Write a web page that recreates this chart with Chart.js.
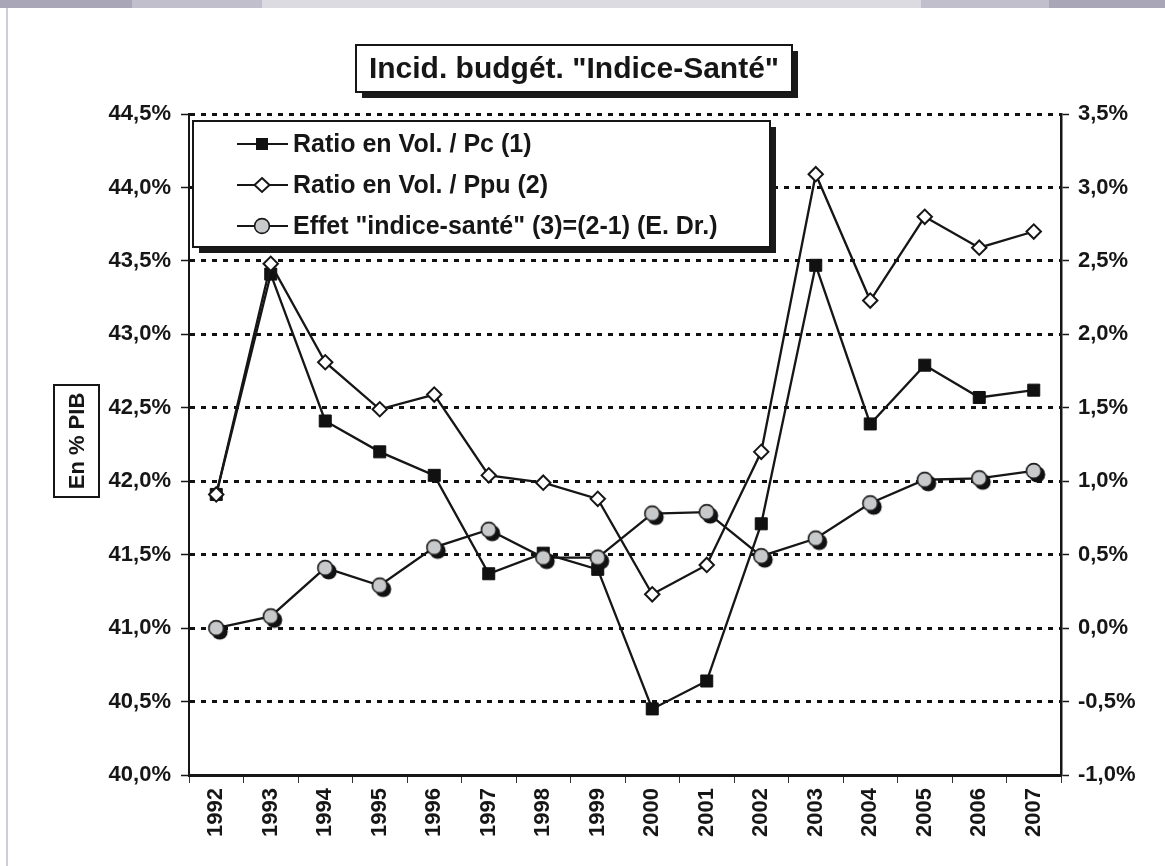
<!DOCTYPE html>
<html>
<head>
<meta charset="utf-8">
<script src="https://cdn.jsdelivr.net/npm/chart.js@4.4.0/dist/chart.umd.min.js"></script>
<style>
body { margin: 0; background: #fff; }
#wrap { position: relative; width: 1165px; height: 866px; overflow: hidden; }
#band { position: absolute; left: 0; top: 0; width: 1165px; height: 8px;
  background: linear-gradient(to right, #a9a6b8 0 132px, #c1bfcc 132px 262px, #dcdbe2 262px 921px, #c1bfcc 921px 1049px, #a9a6b8 1049px); }
#edge { position: absolute; left: 6px; top: 8px; width: 2px; height: 858px; background: #cfcdd8; }
canvas { position: absolute; left: 0; top: 0; }
</style>
</head>
<body>
<div id="wrap">
  <div id="band"></div>
  <div id="edge"></div>
  <canvas id="chart" width="1165" height="866"></canvas>
</div>
<script>
const years = ['1992', '1993', '1994', '1995', '1996', '1997', '1998', '1999',
               '2000', '2001', '2002', '2003', '2004', '2005', '2006', '2007'];
const ratioPc = [41.91, 43.41, 42.41, 42.20, 42.04, 41.37, 41.51, 41.40,
                 40.45, 40.64, 41.71, 43.47, 42.39, 42.79, 42.57, 42.62];
const ratioPpu = [41.91, 43.48, 42.81, 42.49, 42.59, 42.04, 41.99, 41.88,
                  41.23, 41.43, 42.20, 44.09, 43.23, 43.80, 43.59, 43.70];
const effetSante = [0.00, 0.08, 0.41, 0.29, 0.55, 0.67, 0.48, 0.48,
                    0.78, 0.79, 0.49, 0.61, 0.85, 1.01, 1.02, 1.07];
const seriesNames = ['Ratio en Vol. / Pc (1)', 'Ratio en Vol. / Ppu (2)',
                     'Effet "indice-santé" (3)=(2-1) (E. Dr.)'];
const chartTitle = 'Incid. budgét. "Indice-Santé"';
const axisTitle = 'En % PIB';

const fontFamily = '"Liberation Sans", Arial, sans-serif';
const tickFont = { family: fontFamily, size: 22, weight: 'bold' };
const ink = '#161616';

function pct(v) {
    return v.toFixed(1).replace('.', ',') + '%';
}

// gray ball with a dark drop shadow, used as point style
function makeBall(shadow) {
    const c = document.createElement('canvas');
    c.width = 30;
    c.height = 30;
    const g = c.getContext('2d');
    if (shadow) {
        g.fillStyle = '#111';
        g.beginPath();
        g.arc(18.5, 18.5, 8, 0, Math.PI * 2);
        g.fill();
    }
    g.fillStyle = '#c8c9cb';
    g.strokeStyle = '#1a1a1a';
    g.lineWidth = 1.6;
    g.beginPath();
    g.arc(15, 15, 7.4, 0, Math.PI * 2);
    g.fill();
    g.stroke();
    return c;
}

const ball = makeBall(true);
const legendBall = makeBall(false);

function drawBox(ctx, x, y, w, h, shadow) {
    if (shadow) {
        ctx.fillStyle = '#1a1a1a';
        ctx.fillRect(x + shadow, y + shadow, w, h);
    }
    ctx.fillStyle = '#fff';
    ctx.fillRect(x, y, w, h);
    ctx.strokeStyle = ink;
    ctx.lineWidth = 2;
    ctx.strokeRect(x, y, w, h);
}

const boxesPlugin = {
    id: 'boxes',
    afterDraw(chart) {
        const ctx = chart.ctx;
        ctx.save();

        // title
        drawBox(ctx, 356, 45, 436, 47, 6);
        ctx.fillStyle = ink;
        ctx.font = 'bold 30px ' + fontFamily;
        ctx.textAlign = 'center';
        ctx.textBaseline = 'middle';
        ctx.fillText(chartTitle, 574, 70);

        // legend
        drawBox(ctx, 193, 121, 577, 126, 6);
        ctx.font = 'bold 25px ' + fontFamily;
        ctx.textAlign = 'left';
        for (let i = 0; i < seriesNames.length; i++) {
            const y = 144 + i * 41;
            ctx.strokeStyle = ink;
            ctx.lineWidth = 2.2;
            ctx.beginPath();
            ctx.moveTo(237, y);
            ctx.lineTo(288, y);
            ctx.stroke();
            const mx = 262;
            if (i === 0) {
                ctx.fillStyle = '#111';
                ctx.fillRect(mx - 6, y - 6, 12, 12);
            } else if (i === 1) {
                ctx.fillStyle = '#fff';
                ctx.lineWidth = 2;
                ctx.beginPath();
                ctx.moveTo(mx, y - 7);
                ctx.lineTo(mx + 7.5, y);
                ctx.lineTo(mx, y + 7);
                ctx.lineTo(mx - 7.5, y);
                ctx.closePath();
                ctx.fill();
                ctx.stroke();
            } else {
                ctx.drawImage(legendBall, mx - 15, y - 15);
            }
            ctx.fillStyle = ink;
            ctx.fillText(seriesNames[i], 293, y + 1);
        }

        // y axis title
        drawBox(ctx, 54, 385, 45, 112, 0);
        ctx.translate(77, 441);
        ctx.rotate(-Math.PI / 2);
        ctx.fillStyle = ink;
        ctx.font = 'bold 22px ' + fontFamily;
        ctx.textAlign = 'center';
        ctx.fillText(axisTitle, 0, 1);

        ctx.restore();
    }
};

const ctx = document.getElementById('chart').getContext('2d');

new Chart(ctx, {
    type: 'line',
    data: {
        labels: years,
        datasets: [
            {
                label: seriesNames[0],
                data: ratioPc,
                yAxisID: 'y',
                borderColor: ink,
                borderWidth: 2.3,
                pointStyle: 'rect',
                pointRadius: 8.5,
                pointBackgroundColor: '#111',
                pointBorderColor: '#111',
                pointBorderWidth: 1,
                order: 3
            },
            {
                label: seriesNames[1],
                data: ratioPpu,
                yAxisID: 'y',
                borderColor: ink,
                borderWidth: 2.3,
                pointStyle: 'rectRot',
                pointRadius: 7.2,
                pointBackgroundColor: '#fff',
                pointBorderColor: ink,
                pointBorderWidth: 2,
                order: 2
            },
            {
                label: seriesNames[2],
                data: effetSante,
                yAxisID: 'y1',
                borderColor: ink,
                borderWidth: 2.3,
                pointStyle: ball,
                pointRadius: 8,
                order: 1
            }
        ]
    },
    options: {
        responsive: false,
        animation: false,
        devicePixelRatio: 1,
        layout: { padding: { top: 114, left: 0, right: 0, bottom: 0 } },
        plugins: {
            legend: { display: false },
            tooltip: { enabled: false }
        },
        scales: {
            x: {
                offset: true,
                grid: { offset: true, drawOnChartArea: false, tickLength: 8, tickColor: '#333', tickWidth: 1 },
                border: { color: ink, width: 3 },
                ticks: { minRotation: 90, maxRotation: 90, autoSkip: false, padding: 5, color: ink, font: tickFont },
                afterFit: s => { s.height = 91; }
            },
            y: {
                position: 'left',
                min: 40,
                max: 44.5,
                ticks: { stepSize: 0.5, callback: v => pct(v), padding: 10, color: ink, font: tickFont },
                grid: {
                    color: c => (c.tick && c.tick.value === 40) ? 'rgba(0,0,0,0)' : '#111',
                    lineWidth: 3,
                    tickLength: 8,
                    tickColor: ink,
                    tickWidth: 1.5
                },
                border: { color: ink, width: 2, dash: [5, 6] },
                afterFit: s => { s.width = 189; }
            },
            y1: {
                position: 'right',
                min: -1,
                max: 3.5,
                ticks: { stepSize: 0.5, callback: v => pct(v), padding: 9, color: ink, font: tickFont },
                grid: { drawOnChartArea: false, tickLength: 8, tickColor: ink, tickWidth: 1.5 },
                border: { color: ink, width: 2.5 },
                afterFit: s => { s.width = 104; }
            }
        }
    },
    plugins: [boxesPlugin]
});
</script>
</body>
</html>
